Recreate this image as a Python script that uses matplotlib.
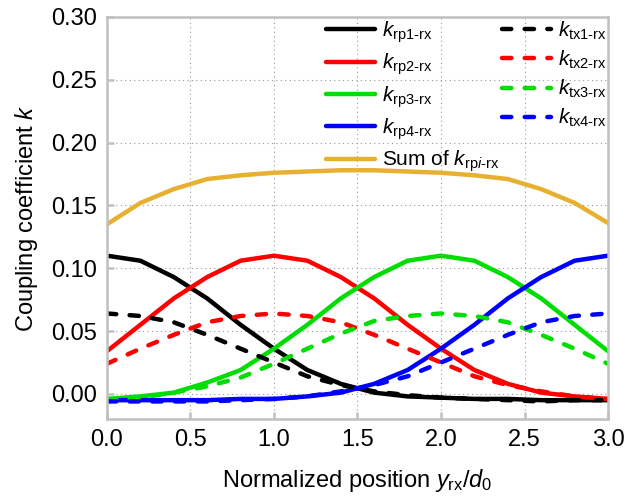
import numpy as np
import matplotlib
matplotlib.use("Agg")
import matplotlib.pyplot as plt

plt.rcParams['font.family'] = ['Liberation Sans', 'DejaVu Sans']
plt.rcParams['mathtext.fontset'] = 'custom'
plt.rcParams['mathtext.rm'] = 'Liberation Sans'
plt.rcParams['mathtext.it'] = 'Liberation Sans:italic'

# normalized position y_rx/d0
pos = [0.0, 0.2, 0.4, 0.6, 0.8, 1.0, 1.2, 1.4, 1.6, 1.8, 2.0, 2.2, 2.4, 2.6, 2.8, 3.0]

k_rp1 = [0.110, 0.106, 0.093, 0.076, 0.055, 0.036, 0.019, 0.008, 0.001, -0.002, -0.003, -0.004, -0.004, -0.005, -0.005, -0.005]
k_rp2 = [0.034, 0.055, 0.076, 0.093, 0.106, 0.110, 0.106, 0.093, 0.076, 0.055, 0.036, 0.019, 0.008, 0.001, -0.002, -0.004]
k_rp3 = [-0.004, -0.002, 0.001, 0.009, 0.019, 0.036, 0.055, 0.076, 0.093, 0.106, 0.110, 0.106, 0.093, 0.076, 0.055, 0.034]
k_rp4 = [-0.005, -0.005, -0.005, -0.005, -0.004, -0.004, -0.002, 0.001, 0.008, 0.019, 0.036, 0.055, 0.076, 0.093, 0.106, 0.110]

k_tx1 = [0.064, 0.062, 0.057, 0.047, 0.036, 0.025, 0.014, 0.007, 0.002, -0.001, -0.003, -0.004, -0.005, -0.006, -0.005, -0.005]
k_tx2 = [0.024, 0.036, 0.047, 0.057, 0.062, 0.064, 0.062, 0.057, 0.047, 0.036, 0.025, 0.014, 0.007, 0.002, -0.002, -0.004]
k_tx3 = [-0.005, -0.003, 0.001, 0.006, 0.013, 0.024, 0.036, 0.048, 0.058, 0.062, 0.064, 0.062, 0.057, 0.047, 0.036, 0.024]
k_tx4 = [-0.006, -0.006, -0.006, -0.006, -0.005, -0.004, -0.002, 0.002, 0.007, 0.014, 0.025, 0.036, 0.047, 0.057, 0.062, 0.064]

k_sum = [0.135, 0.152, 0.163, 0.171, 0.174, 0.176, 0.177, 0.178, 0.178, 0.177, 0.176, 0.174, 0.171, 0.163, 0.152, 0.136]

colors = ['black', '#ff0000', '#00dd00', '#0000ff']
sum_color = '#e8b030'
lw = 3.2
fs = 17

fig = plt.figure(figsize=(6.39, 4.98), dpi=100)
ax = fig.add_axes([0.1674, 0.1586, 0.7841, 0.8073])

rp = [k_rp1, k_rp2, k_rp3, k_rp4]
tx = [k_tx1, k_tx2, k_tx3, k_tx4]
for i in range(4):
    ax.plot(pos, rp[i], color=colors[i], lw=lw, solid_capstyle='round',
            label=r'$k_{\mathrm{rp%d\text{-}rx}}$' % (i + 1))
ax.plot(pos, k_sum, color=sum_color, lw=lw, solid_capstyle='round',
        label=r'Sum of $k_{\mathrm{rp}i\text{-}\mathrm{rx}}$')
for i in range(4):
    ax.plot(pos, tx[i], color=colors[i], lw=lw, dash_capstyle='round',
            dashes=(2.1, 3.0),
            label=r'$k_{\mathrm{tx%d\text{-}rx}}$' % (i + 1))

ax.set_xlim(0, 3.0)
ax.set_ylim(-0.02, 0.30)
ax.set_xticks(np.arange(0, 3.01, 0.5))
ax.set_yticks(np.arange(0, 0.301, 0.05))
ax.xaxis.set_major_formatter(matplotlib.ticker.FormatStrFormatter('%.1f'))
ax.yaxis.set_major_formatter(matplotlib.ticker.FormatStrFormatter('%.2f'))
ax.grid(True, color='#999999', linestyle=(0, (1, 3)), lw=0.8)
ax.tick_params(direction='in', length=5, width=1.8, color='#c0c0c0',
               labelsize=fs, pad=7)
for s in ax.spines.values():
    s.set_color('#c0c0c0')
    s.set_linewidth(1.8)

ax.set_xlabel(r'Normalized position $y_{\mathrm{rx}}/d_0$', fontsize=fs, labelpad=12)
ax.set_ylabel(r'Coupling coefficient $k$', fontsize=fs, labelpad=8)

ax.legend(ncol=2, frameon=False, fontsize=15, handlelength=2.35,
          handletextpad=0.35, columnspacing=0.1, labelspacing=0.33,
          loc='upper left', bbox_to_anchor=(0.42, 1.015), borderaxespad=0.0)

fig.savefig('out.png', dpi=100)
